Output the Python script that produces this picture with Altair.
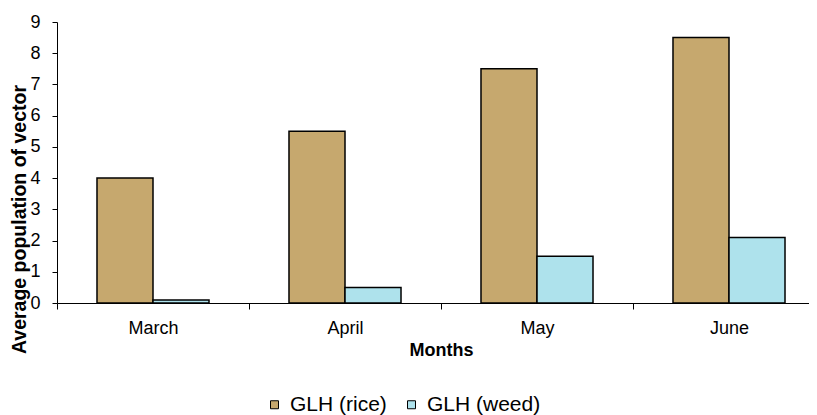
import altair as alt
import pandas as pd

months = ["March", "April", "May", "June"]
series = ["GLH (rice)", "GLH (weed)"]
rice = [4.0, 5.5, 7.5, 8.5]
weed = [0.1, 0.5, 1.5, 2.1]
colors = ["#C6A86E", "#AEE2EC"]
y_ticks = [0, 1, 2, 3, 4, 5, 6, 7, 8, 9]

rows = []
for m, r, w in zip(months, rice, weed):
    rows.append({"month": m, "series": series[0], "value": r})
    rows.append({"month": m, "series": series[1], "value": w})
df = pd.DataFrame(rows)

FONT = "Liberation Sans, Arial, sans-serif"

chart = alt.Chart(df).mark_bar(stroke="black", strokeWidth=1.5).encode(
    x=alt.X(
        "month:N", sort=months, title="Months",
        scale=alt.Scale(domain=months, range=[0, 768], paddingInner=0, paddingOuter=0),
        axis=alt.Axis(labelAngle=0, tickBand="extent", tickSize=6, labelPadding=10,
                      titlePadding=4, labelFontSize=18, titleFontSize=18,
                      labelFont=FONT, titleFont=FONT, titleFontWeight="bold",
                      labelColor="black", titleColor="black",
                      domainColor="black", tickColor="black", domainWidth=1, tickWidth=1),
    ),
    xOffset=alt.XOffset(
        "series:N", sort=series,
        scale=alt.Scale(domain=series, paddingInner=0, paddingOuter=0.714),
    ),
    y=alt.Y(
        "value:Q", title="Average population of vector",
        scale=alt.Scale(domain=[0, 9], nice=False),
        axis=alt.Axis(values=y_ticks, tickSize=5, labelPadding=12,
                      titleX=-28, titleY=197,
                      grid=False, labelFontSize=18, titleFontSize=19.5,
                      labelFont=FONT, titleFont=FONT, titleFontWeight="bold",
                      labelColor="black", titleColor="black",
                      domainColor="black", tickColor="black", domainWidth=1, tickWidth=1),
    ),
    color=alt.Color(
        "series:N", sort=series,
        scale=alt.Scale(domain=series, range=colors),
        legend=alt.Legend(title=None, orient="none", direction="horizontal",
                          legendX=207, legendY=372, symbolType="square", symbolSize=64,
                          symbolStrokeColor="black", symbolStrokeWidth=1,
                          labelFontSize=21, labelFont=FONT, labelColor="black",
                          labelOffset=5, columnPadding=14, padding=0),
    ),
).properties(
    width=752, height=281,
    autosize=alt.AutoSizeParams(type="none"),
    padding={"left": 49, "top": 14, "right": 0, "bottom": 112},
).configure_view(stroke=None)

chart.save("out.html", embed_options={"renderer": "svg", "actions": False})
